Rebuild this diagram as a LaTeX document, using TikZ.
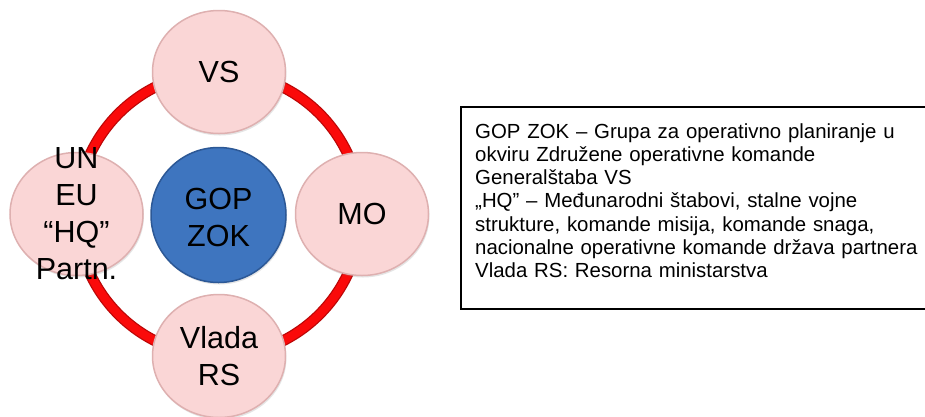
\documentclass[tikz,border=0pt]{standalone}
\usepackage{fontspec}
\setmainfont{Liberation Sans}
\usetikzlibrary{shapes.geometric,shadows}
\definecolor{pinkfill}{RGB}{250,214,214}
\definecolor{pinkedge}{RGB}{222,176,176}
\definecolor{bluefill}{RGB}{62,117,191}
\definecolor{blueedge}{RGB}{44,88,150}
\definecolor{ringred}{RGB}{250,10,10}
\begin{document}
\begin{tikzpicture}[x=1pt,y=-1pt,
  bigtext/.style={align=center, font=\fontsize{30.5}{37}\selectfont, inner sep=0pt},
  outer/.style={ellipse, minimum width=133pt, minimum height=123pt, inner sep=0pt,
    fill=pinkfill, draw=pinkedge, line width=1.5pt,
    drop shadow={opacity=0.2, shadow xshift=1pt, shadow yshift=-2pt}},
  core/.style={circle, minimum size=135pt, inner sep=0pt,
    fill=bluefill, draw=blueedge, line width=1.5pt,
    drop shadow={opacity=0.2, shadow xshift=1pt, shadow yshift=-2pt}},
  legendtext/.style={anchor=base west, inner sep=0pt, text width=445pt, align=left,
    font=\fontsize{20.4}{23.3}\selectfont}]
\useasboundingbox (0,0) rectangle (925,416);
\fill[white] (0,0) rectangle (925,416);
% ring
\coordinate (ringc) at (219,214);
\draw[ringred!75!black, line width=11pt] (ringc) circle[radius=142];
\draw[ringred, line width=8.5pt] (ringc) circle[radius=142];
% nodes
\node[outer, label={[bigtext]center:VS}] (vs) at (219,72) {};
\node[outer, label={[bigtext]center:MO}] (mo) at (362,214) {};
\node[outer, label={[bigtext]center:{Vlada\\RS}}] (vlada) at (219,356) {};
\node[outer, label={[bigtext]center:{UN\\EU\\“HQ”\\Partn.}}] (un) at (76.5,214) {};
\node[core, label={[bigtext, yshift=-2pt]center:{GOP\\ZOK}}] (gop) at (218.5,215) {};
% legend box
\node[legendtext] (legend) at (475,138) {GOP ZOK – Grupa za operativno planiranje u\\okviru Združene operativne komande\\Generalštaba VS\\„HQ” – Međunarodni štabovi, stalne vojne\\strukture, komande misija, komande snaga,\\nacionalne operativne komande država partnera\\Vlada RS: Resorna ministarstva};
\coordinate (boxtr) at (925,107);
\coordinate (boxbr) at (925,309);
\draw[line width=1.5pt] (boxtr) -| (461,309) -- (boxbr);
\end{tikzpicture}
\end{document}
